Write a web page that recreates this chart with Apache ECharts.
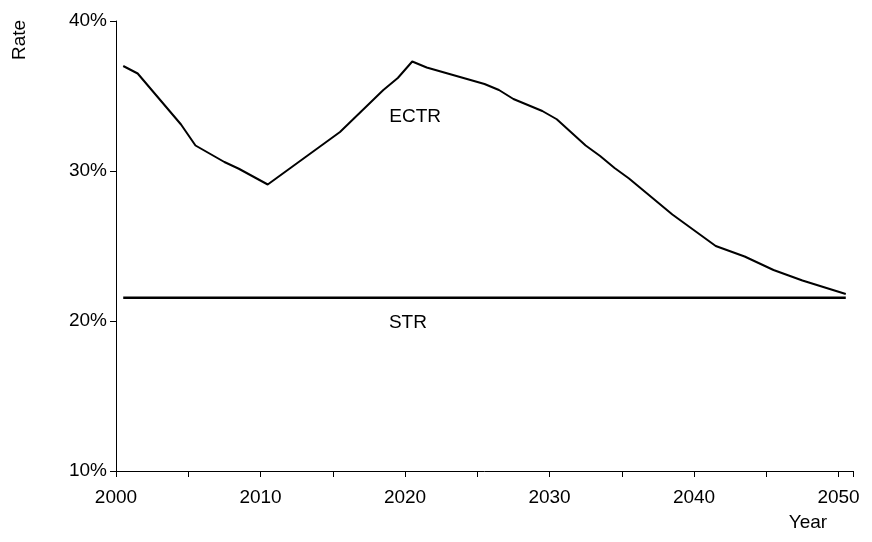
<!DOCTYPE html>
<html><head><meta charset="utf-8">
<script src="https://cdn.jsdelivr.net/npm/echarts@6/dist/echarts.min.js"></script>
<style>html,body{margin:0;padding:0;background:#fff}#c{width:872px;height:542px}</style>
</head><body><div id="c"></div>
<script>
// ECTR vertices (year, rate %); points sit at mid-year
const ectrYears  = [2000, 2001, 2004, 2005, 2007, 2008, 2010, 2015, 2018, 2019, 2020, 2021, 2025, 2026, 2027, 2029, 2030, 2032, 2033, 2034, 2035, 2038, 2041, 2043, 2045, 2046, 2047, 2050];
const ectrValues = [37.0, 36.5, 33.1, 31.7, 30.6, 30.15, 29.1, 32.6, 35.4, 36.2, 37.3, 36.9, 35.8, 35.4, 34.8, 34.0, 33.45, 31.7, 31.0, 30.2, 29.5, 27.1, 25.0, 24.3, 23.4, 23.05, 22.7, 21.8];
const strYears  = [2000, 2050];
const strValues = [21.55, 21.55];
const xLabelYears = [2000, 2010, 2020, 2030, 2040, 2050];
const yTicks = [10, 20, 30, 40];
const MID = 0.5;

const FONT = 'Liberation Sans';
const FS = 19;
const chart = echarts.init(document.getElementById('c'), null, {renderer: 'canvas'});
const pair = (ys, vs) => ys.map((y, i) => [y + MID, vs[i]]);

chart.setOption({
  animation: false,
  backgroundColor: '#fff',
  grid: {left: 116, right: 19, top: 21, bottom: 71, containLabel: false},
  xAxis: {
    type: 'value', min: 2000, max: 2051, interval: 5,
    axisLine: {show: true, lineStyle: {color: '#000', width: 1}},
    axisTick: {show: true, length: 6, lineStyle: {color: '#000'}},
    splitLine: {show: false},
    axisLabel: {
      margin: 17, color: '#000', fontFamily: FONT, fontSize: FS,
      formatter: v => xLabelYears.includes(v) ? String(v) : ''
    }
  },
  yAxis: {
    type: 'value', min: yTicks[0], max: yTicks[yTicks.length - 1], interval: 10,
    axisLine: {show: true, lineStyle: {color: '#000', width: 1}},
    axisTick: {show: true, length: 6, lineStyle: {color: '#000'}},
    splitLine: {show: false},
    axisLabel: {margin: 9, color: '#000', fontFamily: FONT, fontSize: FS, formatter: '{value}%'}
  },
  series: [
    {type: 'line', name: 'ECTR', data: pair(ectrYears, ectrValues), showSymbol: false, symbol: 'none',
     lineStyle: {color: '#000', width: 2}},
    {type: 'line', name: 'STR', data: pair(strYears, strValues), showSymbol: false, symbol: 'none',
     lineStyle: {color: '#000', width: 2.3}}
  ]
});

const p1 = chart.convertToPixel({gridIndex: 0}, [2020.7, 33.6]);
const p2 = chart.convertToPixel({gridIndex: 0}, [2020.2, 19.9]);
chart.setOption({
  graphic: [
    {type: 'text', x: p1[0], y: p1[1], style: {text: 'ECTR', font: FS + 'px ' + FONT, fill: '#000', align: 'center', verticalAlign: 'middle'}},
    {type: 'text', x: p2[0], y: p2[1], style: {text: 'STR', font: FS + 'px ' + FONT, fill: '#000', align: 'center', verticalAlign: 'middle'}},
    {type: 'text', x: 20, y: 40, rotation: Math.PI / 2, style: {text: 'Rate', font: FS + 'px ' + FONT, fill: '#000', align: 'center', verticalAlign: 'middle'}},
    {type: 'text', x: 808, y: 523, style: {text: 'Year', font: FS + 'px ' + FONT, fill: '#000', align: 'center', verticalAlign: 'middle'}}
  ]
});
</script>
</body></html>
